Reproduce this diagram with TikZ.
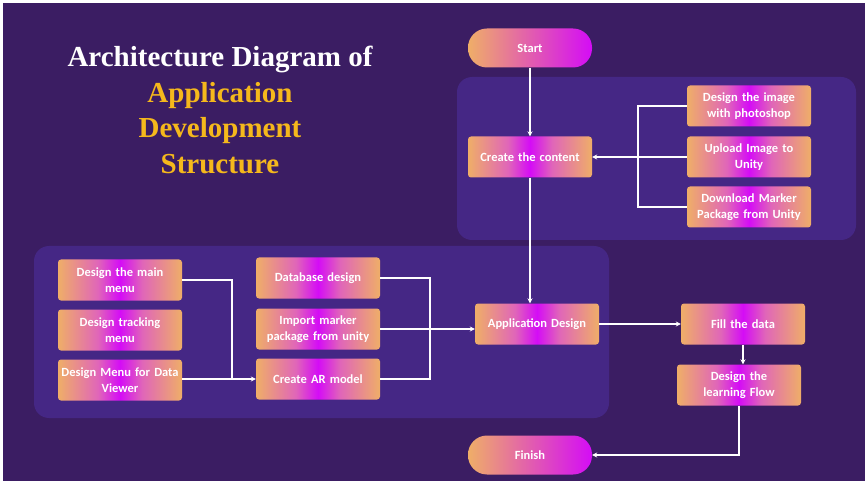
\documentclass[tikz,border=0pt]{standalone}
\usepackage{fontspec}
\setmainfont{Liberation Serif}
\newfontfamily\titlefont{Liberation Serif}
\newfontfamily\boxfont{Carlito}
\usetikzlibrary{arrows.meta,calc}
\definecolor{bgpurple}{HTML}{3B1D63}
\definecolor{panelpurple}{HTML}{452785}
\definecolor{boxorange}{HTML}{EFAE68}
\definecolor{boxpink}{HTML}{E066B8}
\definecolor{boxmagenta}{HTML}{D40CF6}
\definecolor{titleyellow}{HTML}{F5B81C}
\pgfdeclarehorizontalshading{boxshade}{100bp}{color(0bp)=(boxorange); color(25bp)=(boxorange);
  color(41bp)=(boxpink); color(50bp)=(boxmagenta); color(59bp)=(boxpink);
  color(75bp)=(boxorange); color(100bp)=(boxorange)}
\tikzset{
  stepbox/.style={shade, shading=boxshade, rounded corners=3pt, minimum width=124pt,
    minimum height=41pt, text width=122pt, align=center, inner sep=0pt, text=white,
    font=\boxfont\bfseries\fontsize{12.5}{15.5}\selectfont},
  terminal/.style={stepbox, left color=boxorange, right color=boxmagenta,
    rounded corners=19pt, minimum height=39pt},
  panel/.style={fill=panelpurple, rounded corners=15pt},
  link/.style={draw=white, line width=1.3pt},
  flow/.style={link, -{Stealth[length=5pt,width=5pt]}}
}
\begin{document}
\begin{tikzpicture}[x=1pt,y=-1pt]
  \fill[white] (0,0) rectangle (865,481);
  \fill[bgpurple] (3,3) rectangle (865,481);
  \useasboundingbox (0,0) rectangle (865,481);
  % panels
  \fill[panel] (457,77) rectangle (856,240);
  \fill[panel] (34,246) rectangle (609,418);
  % title
  \node[align=center, text=titleyellow, font=\titlefont\bfseries\fontsize{29}{35.5}\selectfont] (title) at (220,110)
    {\textcolor{white}{Architecture Diagram of}\\Application\\Development\\Structure};
  % flow
  \node[terminal] (start) at (530,48) {Start};
  \node[stepbox] (content) at (530,157) {Create the content};
  \node[stepbox] (photoshop) at (749,106) {Design the image\\with photoshop};
  \node[stepbox] (upload) at (749,157) {Upload Image to\\Unity};
  \node[stepbox] (download) at (749,207) {Download Marker\\Package from Unity};
  \node[stepbox] (mainmenu) at (120,280) {Design the main\\menu};
  \node[stepbox] (tracking) at (120,330) {Design tracking\\menu};
  \node[stepbox] (viewer) at (120,380) {Design Menu for Data\\Viewer};
  \node[stepbox] (database) at (318,278) {Database design};
  \node[stepbox] (import) at (318,329) {Import marker\\package from unity};
  \node[stepbox] (armodel) at (318,379) {Create AR model};
  \node[stepbox] (appdesign) at (537,324) {Application Design};
  \node[stepbox] (filldata) at (743,324) {Fill the data};
  \node[stepbox] (learning) at (739,385) {Design the\\learning Flow};
  \node[terminal] (finish) at (530,455) {Finish};
  \coordinate (rjoin) at (638,157);
  \coordinate (ljoin) at (232,379);
  \coordinate (mjoin) at (430,379);
  \draw[flow] (start) -- (content);
  \draw[link] (photoshop.west) -| (rjoin);
  \draw[link] (download.west) -| (rjoin);
  \draw[flow] (upload.west) -- (content.east);
  \draw[flow] (content.south) -- (content.south |- appdesign.north);
  \draw[link] (mainmenu.east) -| (ljoin);
  \draw[flow] (viewer.east |- armodel.west) -- (armodel.west);
  \draw[link] (database.east) -| (mjoin) -- (armodel.east);
  \draw[flow] (import.east) -- (import.east -| appdesign.west);
  \draw[flow] (appdesign) -- (filldata);
  \draw[flow] (filldata.south) -- (filldata.south |- learning.north);
  \draw[flow] (learning.south) |- (finish.east);
\end{tikzpicture}
\end{document}
